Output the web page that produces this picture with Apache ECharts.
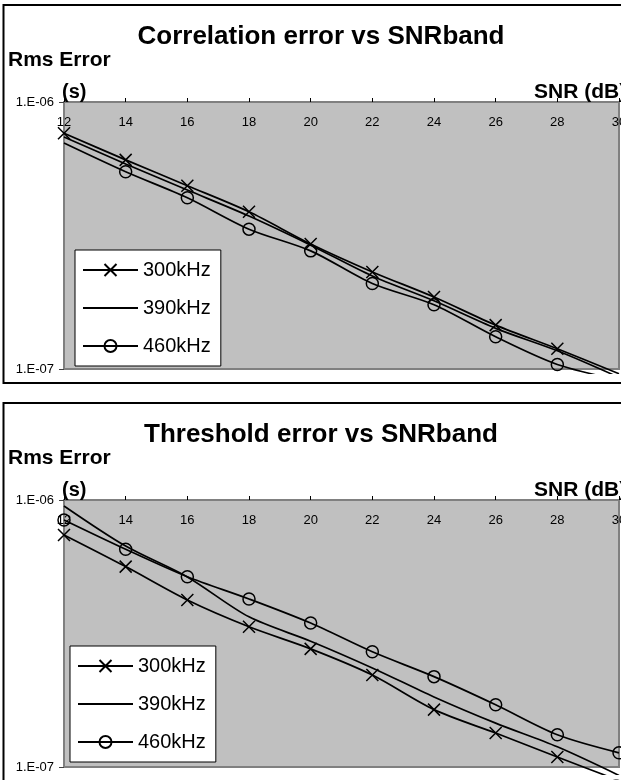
<!DOCTYPE html>
<html><head><meta charset="utf-8">
<script src="https://cdn.jsdelivr.net/npm/echarts@6/dist/echarts.min.js"></script>
<style>
html,body{margin:0;padding:0;background:#fff;overflow:hidden;width:621px;height:780px}
#c1{position:absolute;left:0;top:0;width:621px;height:398px}
#c2{position:absolute;left:0;top:398px;width:621px;height:382px}
</style></head>
<body><div id="c1"></div><div id="c2"></div>
<script>
// ---- data ----
const snr = [12, 14, 16, 18, 20, 22, 24, 26, 28, 30];
const seriesNames = ['300kHz', '390kHz', '460kHz'];

const corr300 = [7.64e-7, 6.07e-7, 4.86e-7, 3.88e-7, 2.94e-7, 2.31e-7, 1.86e-7, 1.46e-7, 1.19e-7, 9.6e-8];
const corr390 = [7.40e-7, 5.86e-7, 4.68e-7, 3.74e-7, 2.91e-7, 2.23e-7, 1.80e-7, 1.42e-7, 1.17e-7, 9.3e-8];
const corr460 = [7.02e-7, 5.48e-7, 4.38e-7, 3.34e-7, 2.77e-7, 2.09e-7, 1.74e-7, 1.32e-7, 1.04e-7, 9.1e-8];

const thr300 = [7.40e-7, 5.63e-7, 4.22e-7, 3.35e-7, 2.77e-7, 2.21e-7, 1.64e-7, 1.34e-7, 1.09e-7, 8.9e-8];
const thr390 = [9.50e-7, 6.72e-7, 5.15e-7, 3.65e-7, 2.96e-7, 2.35e-7, 1.83e-7, 1.46e-7, 1.19e-7, 9.3e-8];
const thr460 = [8.42e-7, 6.54e-7, 5.16e-7, 4.26e-7, 3.46e-7, 2.70e-7, 2.18e-7, 1.71e-7, 1.32e-7, 1.13e-7];

const yTickValues = [1e-7, 1e-6];
const yTickLabels = ['1.E-07', '1.E-06'];
const yNameLine1 = 'Rms Error';
const yNameLine2 = '(s)';
const xName = 'SNR (dB)';
const titles = ['Correlation error vs SNRband', 'Threshold error vs SNRband'];

// ---- rendering ----
const FONT = "'Liberation Sans', Arial, Helvetica, sans-serif";
const X_PATH = 'path://M0,0L12,12M12,0L0,12';
const Y_MIN = 1e-7, Y_MAX = 1e-6;

function yLabel(v) {
  let best = 0, bd = Infinity;
  yTickValues.forEach((t, i) => {
    const d = Math.abs(Math.log10(v) - Math.log10(t));
    if (d < bd) { bd = d; best = i; }
  });
  return bd < 0.01 ? yTickLabels[best] : '';
}

// points whose marker is not drawn: below the axis minimum, or listed as hidden
function points(values, hidden) {
  return snr.map((x, i) => {
    const item = { value: [x, values[i]] };
    if (values[i] < Y_MIN || (hidden && hidden.indexOf(i) >= 0)) item.symbol = 'none';
    return item;
  });
}

function build(cfg) {
  const bold = (size) => ({ fontSize: size, fontWeight: 'bold', color: '#000', fontFamily: FONT });
  const base = {
    type: 'line', smooth: 0.3, clip: false,
    lineStyle: { color: '#000', width: 1.7 },
    symbolSize: 12, emphasis: { disabled: true }, z: 3
  };
  return {
    animation: false,
    backgroundColor: '#fff',
    textStyle: { fontFamily: FONT },
    title: [
      { text: cfg.title, left: 321, top: 24, textAlign: 'center', padding: 0, textStyle: bold(26) },
      { text: yNameLine1, left: 8, top: 50, padding: 0, textStyle: bold(21) },
      { text: yNameLine2, left: 62, top: 82, padding: 0, textStyle: bold(20) },
      { text: xName, left: 534, top: 82, padding: 0, textStyle: bold(21) }
    ],
    grid: {
      left: 64, right: 2, top: 102, height: 267,
      show: true, backgroundColor: '#C0C0C0', borderColor: '#808080', borderWidth: 2,
      containLabel: false, outerBoundsMode: 'none'
    },
    xAxis: {
      type: 'value', min: 12, max: 30, interval: 2, position: 'top',
      axisLine: { show: true, onZero: false, lineStyle: { color: '#808080', width: 2 } },
      axisTick: { show: true, inside: false, length: 4, lineStyle: { color: '#000' } },
      axisLabel: { inside: true, margin: 14, fontSize: 13, color: '#000', fontFamily: FONT },
      splitLine: { show: false }
    },
    yAxis: {
      type: 'log', logBase: 10, min: Y_MIN, max: Y_MAX,
      axisLine: { show: true, lineStyle: { color: '#808080', width: 2 } },
      axisTick: { show: true, length: 5, lineStyle: { color: '#404040' } },
      axisLabel: { fontSize: 13, color: '#000', margin: 10, fontFamily: FONT, formatter: yLabel },
      splitLine: { show: false }, minorTick: { show: false }
    },
    legend: {
      orient: 'vertical', left: cfg.legendLeft, top: cfg.legendTop,
      padding: [10, 10, 10, 7], itemWidth: 55, itemHeight: 15, itemGap: 18,
      backgroundColor: '#fff', borderColor: '#000', borderWidth: 1, borderRadius: 0,
      selectedMode: false,
      textStyle: { fontSize: 20, color: '#000', fontFamily: FONT },
      data: [
        { name: seriesNames[0] },
        { name: seriesNames[1], itemStyle: { color: 'rgba(0,0,0,0)', borderWidth: 0, opacity: 0 } },
        { name: seriesNames[2] }
      ]
    },
    graphic: [
      { type: 'rect', silent: true, z: 100,
        shape: { x: 60, y: cfg.maskTop, width: 600, height: 381.5 - cfg.maskTop },
        style: { fill: '#fff' } },
      { type: 'rect', silent: true, z: 101,
        shape: { x: 3.5, y: 5, width: 700, height: 378 },
        style: { fill: 'none', stroke: '#000', lineWidth: 2 } }
    ],
    series: [
      Object.assign({}, base, {
        name: seriesNames[0], symbol: X_PATH,
        itemStyle: { color: '#000', borderColor: '#000', borderWidth: 1.5 },
        data: points(cfg.s300, cfg.hide300)
      }),
      Object.assign({}, base, {
        name: seriesNames[1], symbol: 'none',
        itemStyle: { color: '#000' },
        data: points(cfg.s390)
      }),
      Object.assign({}, base, {
        name: seriesNames[2], symbol: 'circle',
        itemStyle: { color: 'rgba(0,0,0,0)', borderColor: '#000', borderWidth: 1.5 },
        data: points(cfg.s460, cfg.hide460)
      })
    ]
  };
}

const chart1 = echarts.init(document.getElementById('c1'), null, { renderer: 'canvas' });
chart1.setOption(build({
  title: titles[0], s300: corr300, s390: corr390, s460: corr460, hide460: [0],
  legendLeft: 75, legendTop: 250, maskTop: 374
}));

const chart2 = echarts.init(document.getElementById('c2'), null, { renderer: 'canvas' });
chart2.setOption(build({
  title: titles[1], s300: thr300, s390: thr390, s460: thr460,
  legendLeft: 70, legendTop: 248, maskTop: 377
}));
</script>
</body></html>
